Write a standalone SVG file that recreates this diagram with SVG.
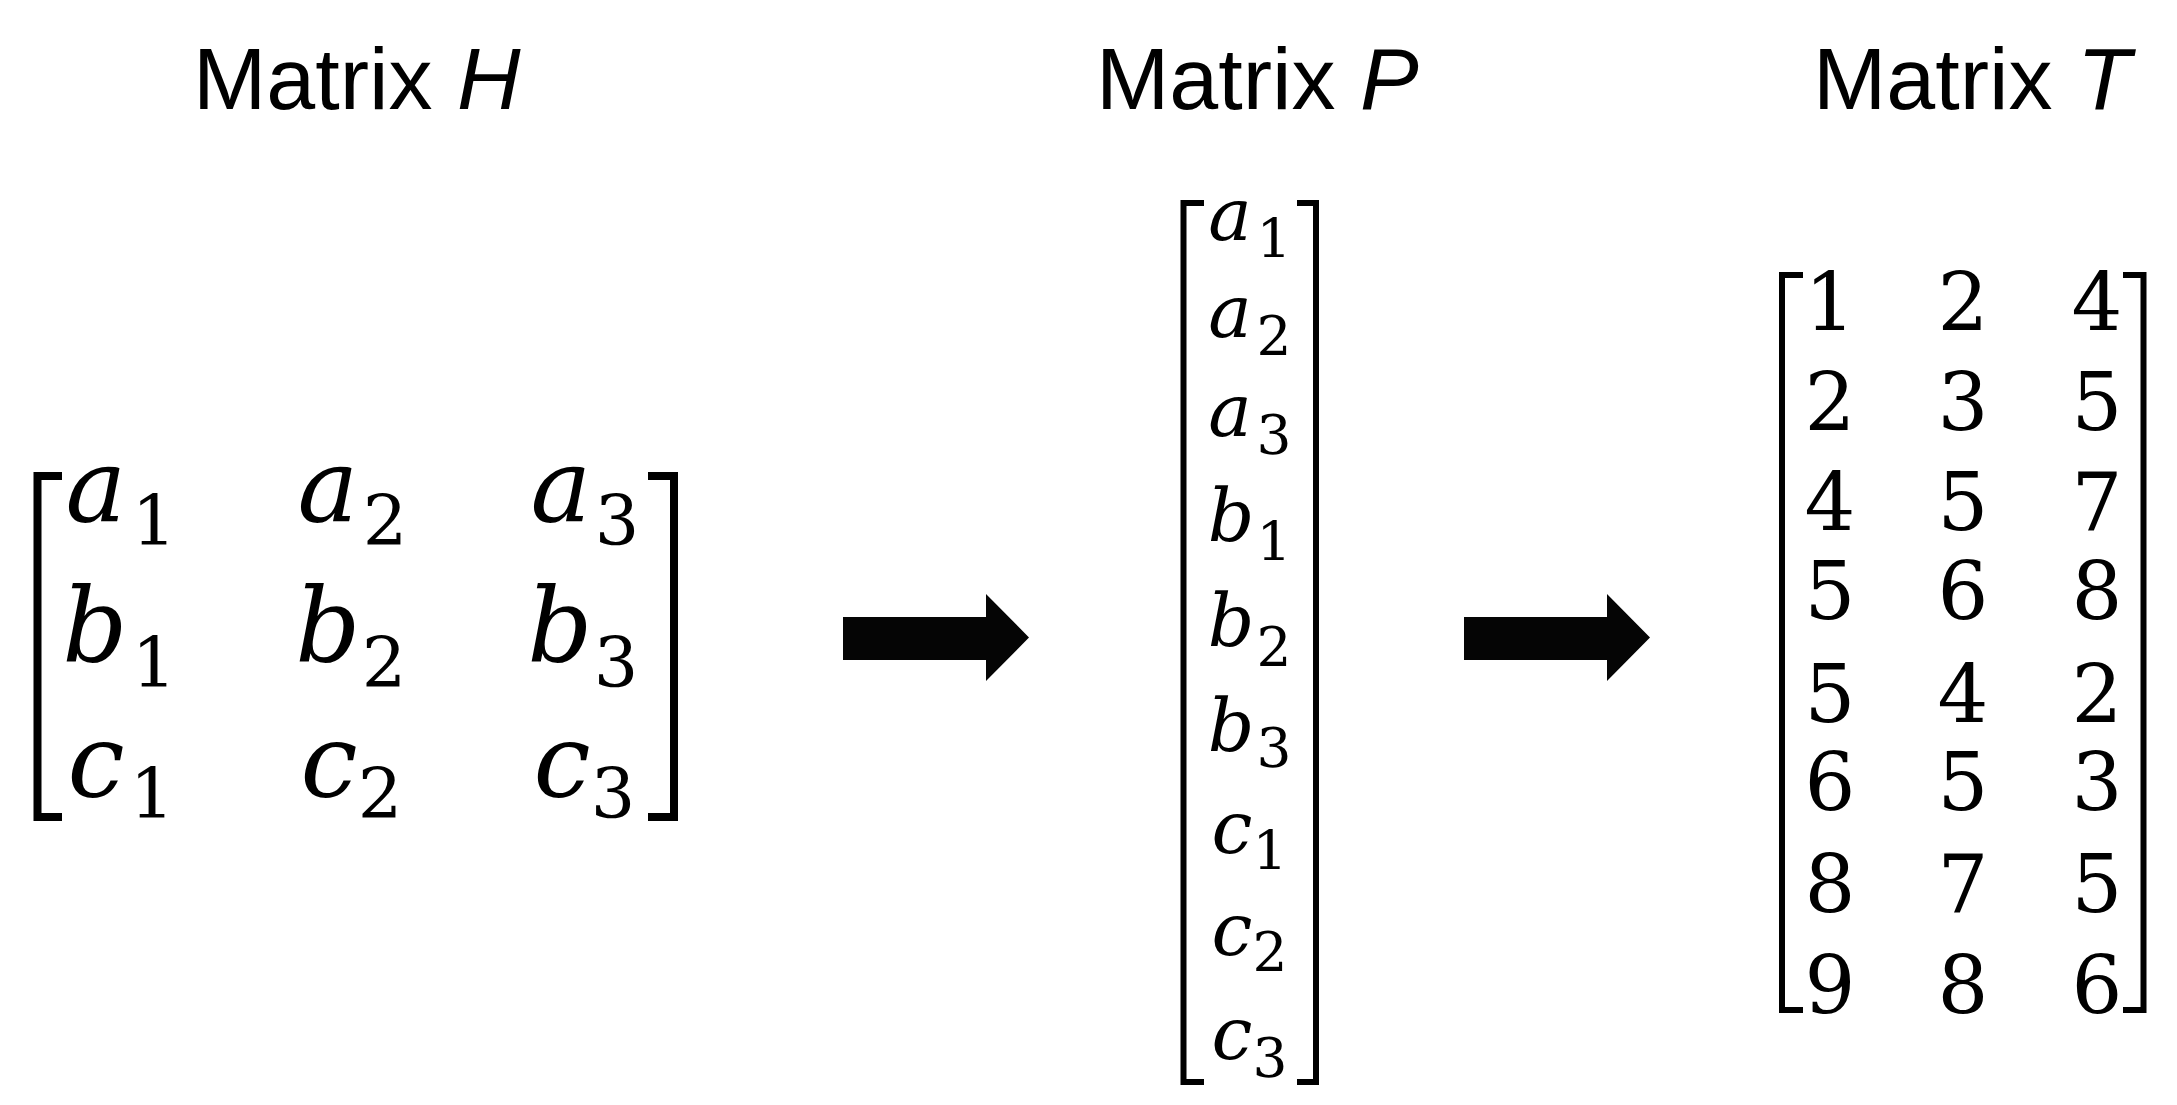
<svg xmlns="http://www.w3.org/2000/svg" width="2177" height="1105" viewBox="0 0 2177 1105">
<style>
.title{font-family:"Liberation Sans",Arial,sans-serif;font-size:88px;fill:#000}
.it{font-style:italic}
.var{font-family:"DejaVu Serif","Liberation Serif",serif;font-style:italic;fill:#000;text-anchor:middle}
.sub{font-family:"DejaVu Serif","Liberation Serif",serif;fill:#000;text-anchor:middle}
.vH{font-size:102px}
.sH{font-size:70px}
.vP{font-size:73px}
.sP{font-size:55px}
.num{font-family:"DejaVu Serif","Liberation Serif",serif;font-size:80px;fill:#000;text-anchor:middle}
.br{fill:none;stroke:#000;stroke-linejoin:miter;stroke-linecap:butt}
.arrow{fill:#050505}
</style>
<rect width="2177" height="1105" fill="#fff"/>
<g id="matrix-H">
<text class="title" x="193" y="109">Matrix <tspan class="it">H</tspan></text>
<path class="br" stroke-width="8" d="M62,476 H37.5 V817 H62"/>
<path class="br" stroke-width="8" d="M648,476 H674 V817 H648"/>
<text class="var vH" x="96" y="522">a</text><text class="sub sH" x="154" y="545">1</text>
<text class="var vH" x="328" y="522">a</text><text class="sub sH" x="385" y="545">2</text>
<text class="var vH" x="561" y="522">a</text><text class="sub sH" x="617" y="545">3</text>
<text class="var vH" x="95" y="662">b</text><text class="sub sH" x="154" y="687">1</text>
<text class="var vH" x="328" y="662">b</text><text class="sub sH" x="384" y="687">2</text>
<text class="var vH" x="560" y="662">b</text><text class="sub sH" x="616" y="687">3</text>
<text class="var vH" x="96" y="797">c</text><text class="sub sH" x="152" y="818">1</text>
<text class="var vH" x="329" y="797">c</text><text class="sub sH" x="380" y="818">2</text>
<text class="var vH" x="562" y="797">c</text><text class="sub sH" x="613" y="818">3</text>
</g>
<g id="matrix-P">
<text class="title" x="1096" y="109">Matrix <tspan class="it">P</tspan></text>
<path class="br" stroke-width="6" d="M1204,203 H1183.5 V1082 H1204"/>
<path class="br" stroke-width="6" d="M1297,203 H1316 V1082 H1297"/>
<text class="var vP" x="1230" y="240">a</text><text class="sub sP" x="1274" y="258">1</text>
<text class="var vP" x="1230" y="337">a</text><text class="sub sP" x="1274" y="355">2</text>
<text class="var vP" x="1230" y="436">a</text><text class="sub sP" x="1274" y="454">3</text>
<text class="var vP" x="1231" y="541">b</text><text class="sub sP" x="1274" y="561">1</text>
<text class="var vP" x="1231" y="646">b</text><text class="sub sP" x="1274" y="666">2</text>
<text class="var vP" x="1231" y="751">b</text><text class="sub sP" x="1274" y="767">3</text>
<text class="var vP" x="1232" y="853">c</text><text class="sub sP" x="1270" y="870">1</text>
<text class="var vP" x="1232" y="955">c</text><text class="sub sP" x="1270" y="971">2</text>
<text class="var vP" x="1232" y="1059">c</text><text class="sub sP" x="1270" y="1077">3</text>
</g>
<g id="matrix-T">
<text class="title" x="1813" y="109">Matrix <tspan class="it">T</tspan></text>
<path class="br" stroke-width="6" d="M1803,275 H1782 V1010 H1803"/>
<path class="br" stroke-width="6" d="M2123,275 H2143.5 V1010 H2123"/>
<text class="num" y="330"><tspan x="1830">1</tspan><tspan x="1963">2</tspan><tspan x="2097">4</tspan></text>
<text class="num" y="430"><tspan x="1830">2</tspan><tspan x="1963">3</tspan><tspan x="2097">5</tspan></text>
<text class="num" y="530"><tspan x="1830">4</tspan><tspan x="1963">5</tspan><tspan x="2097">7</tspan></text>
<text class="num" y="619"><tspan x="1830">5</tspan><tspan x="1963">6</tspan><tspan x="2097">8</tspan></text>
<text class="num" y="722"><tspan x="1830">5</tspan><tspan x="1963">4</tspan><tspan x="2097">2</tspan></text>
<text class="num" y="810"><tspan x="1830">6</tspan><tspan x="1963">5</tspan><tspan x="2097">3</tspan></text>
<text class="num" y="912"><tspan x="1830">8</tspan><tspan x="1963">7</tspan><tspan x="2097">5</tspan></text>
<text class="num" y="1013"><tspan x="1830">9</tspan><tspan x="1963">8</tspan><tspan x="2097">6</tspan></text>
</g>
<g id="connectors">
<polygon id="arrow-H-P" class="arrow" points="843,617 986,617 986,594 1029,637.5 986,681 986,660 843,660"/>
<polygon id="arrow-P-T" class="arrow" points="1464,617 1607,617 1607,594 1650,637.5 1607,681 1607,660 1464,660"/>
</g>
</svg>
